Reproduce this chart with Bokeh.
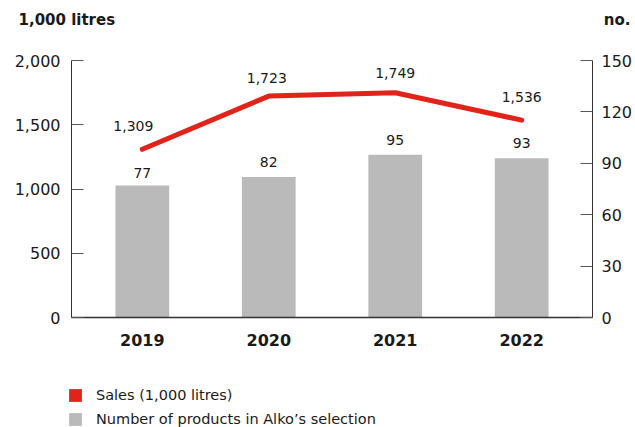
from bokeh.plotting import figure
from bokeh.layouts import column
from bokeh.models import (FactorRange, Range1d, LinearAxis, FixedTicker,
                          NumeralTickFormatter, Legend, LegendItem, Label,
                          ColumnDataSource)
from bokeh.core.properties import value
from bokeh.embed import file_html
from bokeh.resources import INLINE

# Data
years = ["2019", "2020", "2021", "2022"]
sales = [1309, 1723, 1749, 1536]          # 1,000 litres (left axis)
products = [77, 82, 95, 93]               # number of products (right axis)
left_ticks = [0, 500, 1000, 1500, 2000]
right_ticks = [0, 30, 60, 90, 120, 150]

# Label nudges in screen pixels (keeps value labels clear of the line)
sales_dx = [-9, -2, 0, 0]
sales_dy = [-18, -13, -15, -18]
prod_dy = [-8, -10, -10, -10]

RED = "#e2231a"
GREY = "#b9bab9"
TXT = "#1a1a1a"
FONT = "DejaVu Sans"
W = 635
HEAD_H = 48
MAIN_H = 307
FOOT_H = 427 - HEAD_H - MAIN_H


def bare(fig):
    fig.outline_line_color = None
    fig.background_fill_color = "white"
    fig.border_fill_color = "white"
    fig.min_border = 0
    return fig


def no_frame_align(fig):
    if "frame_align" in fig.properties():
        fig.frame_align = False


src = ColumnDataSource(dict(
    year=years, sales=sales, products=products,
    sales_txt=[f"{v:,}" for v in sales],
    prod_txt=[str(v) for v in products],
    sales_dx=sales_dx, sales_dy=sales_dy, prod_dy=prod_dy,
))

# ---- header with the axis unit captions ----
head = bare(figure(width=W, height=HEAD_H, output_backend="svg",
                   toolbar_location=None, x_axis_type=None, y_axis_type=None,
                   x_range=Range1d(0, 1), y_range=Range1d(0, 1)))
head.add_layout(Label(x=18, y=HEAD_H - 19, x_units="screen", y_units="screen",
                      text="1,000 litres", text_font=FONT, text_font_size="15px",
                      text_font_style="bold", text_color=TXT,
                      text_baseline="middle"))
head.add_layout(Label(x=630, y=HEAD_H - 19, x_units="screen", y_units="screen",
                      text="no.", text_font=FONT, text_font_size="15px",
                      text_font_style="bold", text_color=TXT,
                      text_align="right", text_baseline="middle"))

# ---- main chart ----
p = figure(width=W, height=MAIN_H, output_backend="svg", toolbar_location=None,
           x_range=FactorRange(factors=years, range_padding=0.03),
           y_range=Range1d(0, 2000),
           min_border_left=71, min_border_right=41,
           min_border_top=12, min_border_bottom=38)
p.extra_y_ranges = {"n": Range1d(0, 150)}
p.outline_line_color = None
p.xgrid.visible = False
p.ygrid.visible = False
p.background_fill_color = "white"
p.border_fill_color = "white"

# Bars: number of products
p.vbar(x="year", top="products", width=0.425, source=src,
       y_range_name="n", fill_color=GREY, line_color=None)

# Line: sales volume
p.line(x="year", y="sales", source=src, line_color=RED, line_width=5,
       line_cap="round", line_join="round")

# Value labels
p.text(x="year", y="sales", text="sales_txt", source=src,
       text_align="center", text_baseline="bottom",
       x_offset="sales_dx", y_offset="sales_dy",
       text_font=value(FONT), text_font_size="14px", text_color=TXT)
p.text(x="year", y="products", text="prod_txt", source=src,
       y_range_name="n", text_align="center", text_baseline="bottom",
       y_offset="prod_dy", text_font=value(FONT), text_font_size="14px",
       text_color=TXT)

# Axes
xa = p.xaxis[0]
xa.major_tick_line_color = None
xa.minor_tick_line_color = None
xa.axis_line_color = "#333333"
xa.axis_line_width = 1.5
xa.major_label_text_font = FONT
xa.major_label_text_font_style = "bold"
xa.major_label_text_font_size = "16px"
xa.major_label_text_color = TXT
xa.major_label_standoff = 10

ya = p.yaxis[0]
ya.ticker = FixedTicker(ticks=left_ticks)
ya.formatter = NumeralTickFormatter(format="0,0")
ya.major_tick_in = 12
ya.major_tick_out = 0
ya.minor_tick_line_color = None
ya.axis_line_color = "#333333"
ya.major_tick_line_color = "#555555"
ya.major_label_text_font = FONT
ya.major_label_text_font_size = "16px"
ya.major_label_text_color = TXT
ya.major_label_standoff = 11

ra = LinearAxis(y_range_name="n", ticker=FixedTicker(ticks=right_ticks))
ra.major_tick_in = 12
ra.major_tick_out = 0
ra.minor_tick_line_color = None
ra.axis_line_color = "#333333"
ra.major_tick_line_color = "#555555"
ra.major_label_text_font = FONT
ra.major_label_text_font_size = "16px"
ra.major_label_text_color = TXT
ra.major_label_standoff = 9
p.add_layout(ra, "right")

# ---- footer with the series legend ----
foot = bare(figure(width=W, height=FOOT_H, output_backend="svg",
                   toolbar_location=None, x_axis_type=None, y_axis_type=None,
                   x_range=FactorRange(factors=years), y_range=Range1d(0, 1)))
# hidden swatch renderers: only their legend squares are drawn
red_swatch = foot.vbar(x="year", top="sales", width=0.4, source=src,
                       fill_color=RED, line_color=None, visible=False)
grey_swatch = foot.vbar(x="year", top="products", width=0.4, source=src,
                        fill_color=GREY, line_color=None, visible=False)
legend = Legend(items=[
    LegendItem(label="Sales (1,000 litres)", renderers=[red_swatch]),
    LegendItem(label="Number of products in Alko\u2019s selection",
               renderers=[grey_swatch]),
], location=(67, 0))
legend.padding = 0
legend.margin = 0
legend.spacing = 8
legend.glyph_width = 16
legend.glyph_height = 16
legend.label_height = 16
legend.label_standoff = 13
legend.border_line_color = None
legend.background_fill_alpha = 0
legend.inactive_fill_alpha = 0
legend.label_text_font = FONT
legend.label_text_font_size = "14.5px"
legend.label_text_color = TXT
foot.add_layout(legend, "center")

for fig in (head, p, foot):
    no_frame_align(fig)

page = column(head, p, foot, spacing=0)
open("out.html", "w").write(file_html(page, INLINE))
